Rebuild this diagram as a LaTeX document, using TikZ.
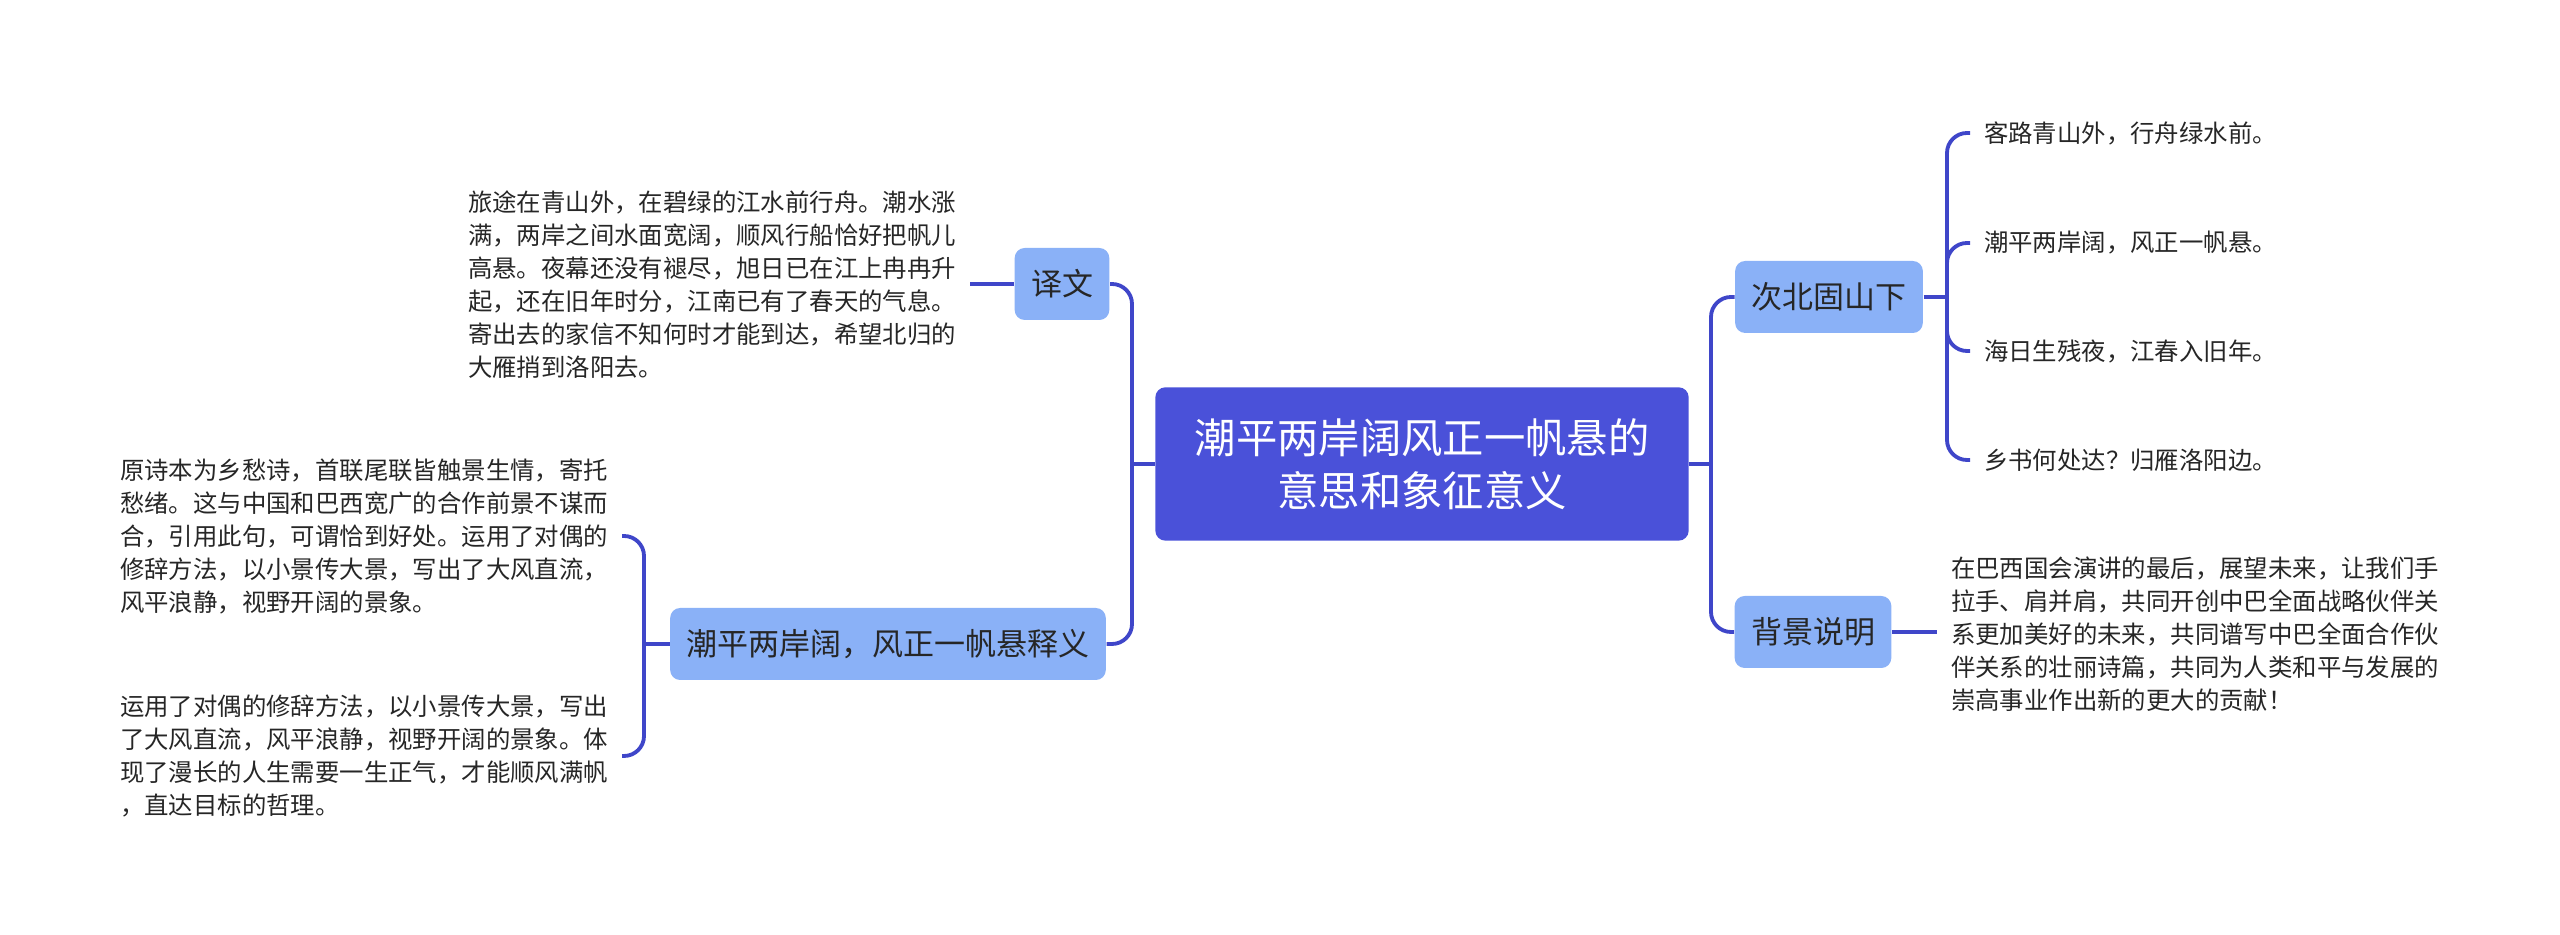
\documentclass[tikz,border=0pt]{standalone}
\usepackage{fontspec}
\setmainfont{Noto Sans CJK SC}
\usepackage{xcolor}
\usepackage{tikz}
\definecolor{rootBlue}{HTML}{4A51D9}
\definecolor{topicBlue}{HTML}{8AB1F7}
\definecolor{linkBlue}{HTML}{3F46C9}
\definecolor{leafInk}{HTML}{262626}

\begin{document}
\begin{tikzpicture}[x=0.3pt, y=-0.3pt,
    rootbox/.style={fill=rootBlue, rounded corners=3pt, text=white, font=\fontsize{12.4}{15.9}\selectfont, align=center, minimum width=160pt, minimum height=46pt, inner sep=0pt},
    topicbox/.style={fill=topicBlue, rounded corners=3pt, text=leafInk, font=\fontsize{9.3}{11}\selectfont, inner xsep=4.9pt, inner ysep=0pt, minimum height=21.6pt},
    leaf/.style={text=leafInk, font=\fontsize{7.32}{9.9}\selectfont, align=left, inner xsep=4pt, inner ysep=0pt},
    link/.style={draw=linkBlue, line width=1.15pt, rounded corners=6pt}]

    \useasboundingbox (0,0) rectangle (2560,935);

    \node (root) [rootbox] at (1422,464) {潮平两岸阔风正一帆悬的\\意思和象征意义};

    \node (yw) [topicbox] at (1062,284) {译文};
    \node (sy) [topicbox] at (888,644) {潮平两岸阔，风正一帆悬释义};
    \node (cb) [topicbox] at (1829,297) {次北固山下};
    \node (bj) [topicbox] at (1813,632) {背景说明};

    \node (ywTxt) [leaf, anchor=east] at (970,285) {旅途在青山外，在碧绿的江水前行舟。潮水涨\\满，两岸之间水面宽阔，顺风行船恰好把帆儿\\高悬。夜幕还没有褪尽，旭日已在江上冉冉升\\起，还在旧年时分，江南已有了春天的气息。\\寄出去的家信不知何时才能到达，希望北归的\\大雁捎到洛阳去。};

    \node (sy1) [leaf, anchor=east] at (622,536) {原诗本为乡愁诗，首联尾联皆触景生情，寄托\\愁绪。这与中国和巴西宽广的合作前景不谋而\\合，引用此句，可谓恰到好处。运用了对偶的\\修辞方法，以小景传大景，写出了大风直流，\\风平浪静，视野开阔的景象。};
    \node (sy2) [leaf, anchor=east] at (622,756) {运用了对偶的修辞方法，以小景传大景，写出\\了大风直流，风平浪静，视野开阔的景象。体\\现了漫长的人生需要一生正气，才能顺风满帆\\，直达目标的哲理。};

    \node (cb1) [leaf, anchor=west] at (1970,133) {客路青山外，行舟绿水前。};
    \node (cb2) [leaf, anchor=west] at (1970,243) {潮平两岸阔，风正一帆悬。};
    \node (cb3) [leaf, anchor=west] at (1970,351) {海日生残夜，江春入旧年。};
    \node (cb4) [leaf, anchor=west] at (1970,460) {乡书何处达？归雁洛阳边。};

    \node (bjTxt) [leaf, anchor=west] at (1937,634) {在巴西国会演讲的最后，展望未来，让我们手\\拉手、肩并肩，共同开创中巴全面战略伙伴关\\系更加美好的未来，共同谱写中巴全面合作伙\\伴关系的壮丽诗篇，共同为人类和平与发展的\\崇高事业作出新的更大的贡献！};

    \coordinate (lj) at (1132,464);
    \coordinate (rj) at (1711,464);
    \coordinate (sj) at (644,644);
    \coordinate (cj) at (1947,297);

    \draw[link] (root.west) -- (lj);
    \draw[link] (lj) |- (yw.east);
    \draw[link] (lj) |- (sy.east);
    \draw[link] (root.east) -- (rj);
    \draw[link] (rj) |- (cb.west);
    \draw[link] (rj) |- (bj.west);

    \draw[link] (yw.west) -- (ywTxt.east |- yw.west);
    \draw[link] (sy.west) -- (sj);
    \draw[link] (sj) |- (sy1.east);
    \draw[link] (sj) |- (sy2.east);

    \draw[link] (cb.east) -- (cj);
    \draw[link] (cj) |- (cb1.west);
    \draw[link] (cj) |- (cb2.west);
    \draw[link] (cj) |- (cb3.west);
    \draw[link] (cj) |- (cb4.west);
    \draw[link] (bj.east) -- (bj.east -| bjTxt.west);
\end{tikzpicture}
\end{document}
